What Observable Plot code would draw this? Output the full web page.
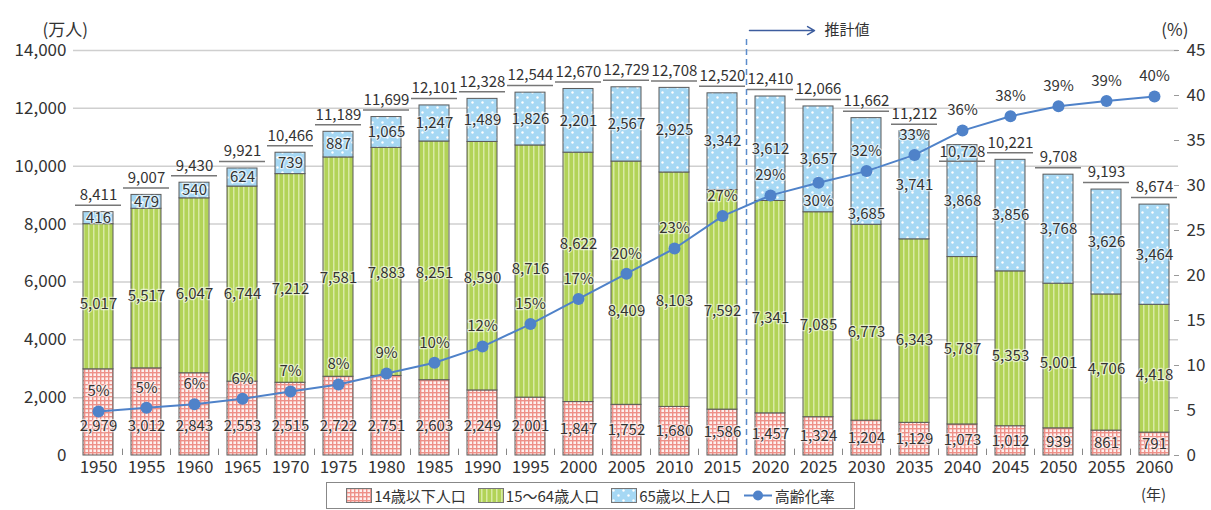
<!DOCTYPE html>
<html><head><meta charset="utf-8">
<script src="https://cdn.jsdelivr.net/npm/d3@7"></script>
<script src="https://cdn.jsdelivr.net/npm/@observablehq/plot@0.6"></script>
<style>
body{margin:0;background:#fff;font-family:'Noto Sans CJK JP',sans-serif;color:#333;}
#wrap{position:relative;width:1211px;height:510px;overflow:hidden;}
#legend{position:absolute;left:326px;top:482px;width:529px;height:27px;box-sizing:border-box;border:1px solid #888;display:flex;align-items:center;justify-content:center;gap:12px;font-size:15px;line-height:1;}
.item{display:flex;align-items:center;gap:2px;}
.item svg{display:block;}
#unitYear{position:absolute;left:1141px;top:483px;font-size:15px;}
</style></head><body>
<svg width="0" height="0" style="position:absolute">
<defs>
<pattern id="pYoung" width="4" height="4" patternUnits="userSpaceOnUse">
 <rect width="4" height="4" fill="#fdf1ef"/>
 <rect width="4" height="1.4" fill="#ee9088"/>
 <rect width="1.4" height="4" fill="#ee9088"/>
</pattern>
<pattern id="pWork" width="5" height="5" patternUnits="userSpaceOnUse">
 <rect width="5" height="5" fill="#b2d357"/>
 <rect x="3" width="1.5" height="5" fill="#d8eaa4"/>
</pattern>
<pattern id="pOld" width="10" height="10" patternUnits="userSpaceOnUse">
 <rect width="10" height="10" fill="#a6d8f4"/>
 <circle cx="2.5" cy="2.5" r="1.2" fill="#fff"/>
 <circle cx="7.5" cy="7.5" r="1.2" fill="#fff"/>
</pattern>
</defs>
</svg>
<div id="wrap">
<div id="chart"></div>
<div id="legend">
 <span class="item"><svg width="26" height="15"><rect x="0.5" y="0.5" width="25" height="14" fill="url(#pYoung)" stroke="#777"/></svg>14歳以下人口</span>
 <span class="item"><svg width="26" height="15"><rect x="0.5" y="0.5" width="25" height="14" fill="url(#pWork)" stroke="#777"/></svg>15～64歳人口</span>
 <span class="item"><svg width="26" height="15"><rect x="0.5" y="0.5" width="25" height="14" fill="url(#pOld)" stroke="#777"/></svg>65歳以上人口</span>
 <span class="item"><svg width="30" height="15"><line x1="1" x2="29" y1="7.5" y2="7.5" stroke="#4f82c9" stroke-width="2"/><circle cx="15" cy="7.5" r="5" fill="#4f82c9"/></svg>高齢化率</span>
</div>
<div id="unitYear">(年)</div>
</div>
<script>
const years = [1950,1955,1960,1965,1970,1975,1980,1985,1990,1995,2000,2005,2010,2015,2020,2025,2030,2035,2040,2045,2050,2055,2060];
const young = [2979,3012,2843,2553,2515,2722,2751,2603,2249,2001,1847,1752,1680,1586,1457,1324,1204,1129,1073,1012,939,861,791];
const working = [5017,5517,6047,6744,7212,7581,7883,8251,8590,8716,8622,8409,8103,7592,7341,7085,6773,6343,5787,5353,5001,4706,4418];
const elderly = [416,479,540,624,739,887,1065,1247,1489,1826,2201,2567,2925,3342,3612,3657,3685,3741,3868,3856,3768,3626,3464];
const totals = [8411,9007,9430,9921,10466,11189,11699,12101,12328,12544,12670,12729,12708,12520,12410,12066,11662,11212,10728,10221,9708,9193,8674];
const agingRate = [4.9,5.3,5.7,6.3,7.1,7.9,9.1,10.3,12.1,14.6,17.4,20.2,23.0,26.6,28.9,30.3,31.6,33.4,36.1,37.7,38.8,39.4,39.9];
const leftTicks = [0,2000,4000,6000,8000,10000,12000,14000];
const rightTicks = [0,5,10,15,20,25,30,35,40,45];
const projectionStart = 2020;

const YMAX = 14000, PMAX = 45, K = YMAX / PMAX;
const PLOT_H = 482 - 50 - 27, S = PLOT_H / YMAX; // px per unit, for label collision checks
const fmt = d3.format(",");
const rows = years.map((year, i) => ({year, young: young[i], work: working[i], old: elderly[i], total: totals[i], pct: agingRate[i]}));
rows.forEach(d => {
  d.p = d.pct * K;
  d.youngY = Math.min(d.young / 2, 1000);
  const lo = d.young, hi = d.young + d.work;
  let m = lo + 0.45 * d.work;
  if (Math.abs(m - d.p) < 1400) m = (hi - d.p > d.p - lo) ? d.p + 1900 : d.p - 1300;
  d.workY = m;
  let e = hi + d.old / 2;
  if (Math.abs(e - d.p) < 400) e = d.p - 1500;
  d.oldY = e;
  d.pctBelow = (e - d.p > 0 && e - d.p < 1000);
  const pctUp = d.p * S + 20, totUp = d.total * S + 17;
  d.crowded = !d.pctBelow && Math.abs(pctUp - totUp) < 19;
});
const normal = rows.filter(d => !d.crowded), crowded = rows.filter(d => d.crowded);

const halo = {stroke: "white", strokeWidth: 2.5, strokeOpacity: 0.6};
const barStyle = {stroke: "#5a5a5a", strokeWidth: 1};
const lineColor = "#4f82c9";
const pctText = d => Math.round(d.pct) + "%";

const chart = Plot.plot({
  width: 1211, height: 482,
  marginLeft: 73, marginRight: 33, marginTop: 50, marginBottom: 27,
  style: {fontFamily: "'Noto Sans CJK JP', sans-serif", fontSize: "15px", color: "#333", background: "transparent"},
  x: {type: "band", domain: years, paddingInner: 0.375, paddingOuter: 0.1875, label: null},
  y: {domain: [0, YMAX], label: null},
  marks: [
    Plot.gridY(leftTicks.filter(t => t > 0), {stroke: "#cfcfcf", strokeOpacity: 1, strokeWidth: 1.5}),
    Plot.barY(rows, {x: "year", y1: 0, y2: "young", fill: "url(#pYoung)", ...barStyle}),
    Plot.barY(rows, {x: "year", y1: "young", y2: d => d.young + d.work, fill: "url(#pWork)", ...barStyle}),
    Plot.barY(rows, {x: "year", y1: d => d.young + d.work, y2: d => d.young + d.work + d.old, fill: "url(#pOld)", ...barStyle}),
    Plot.ruleX(years.slice(1), {x: d => d, dx: -24, y1: 0, y2: 220, stroke: "#888"}),
    Plot.axisY(leftTicks, {anchor: "left", tickSize: 0, tickPadding: 7, tickFormat: fmt, fontSize: 17, line: true, stroke: "#999", label: null}),
    Plot.axisY(rightTicks.map(t => t * K), {anchor: "right", tickSize: -5, tickPadding: 13, tickFormat: d => String(Math.round(d / K)), fontSize: 17, line: true, stroke: "#999", label: null}),
    Plot.axisX({tickSize: 0, tickPadding: 5, tickFormat: d => String(d), fontSize: 17, line: true, stroke: "#999", label: null}),
    Plot.ruleX([projectionStart], {x: d => d, dx: -24, y1: 0, y2: 14420, stroke: "#5b8ccc", strokeWidth: 1.5, strokeDasharray: "6,4"}),
    Plot.arrow([projectionStart], {x1: d => d, x2: d => d + 5, y1: 14690, y2: 14690, insetStart: -21, insetEnd: 4, stroke: "#3d5d9e", strokeWidth: 1.5, headLength: 8}),
    Plot.text([projectionStart], {x: d => d + 5, y: 14690, text: () => "推計値", textAnchor: "start", dx: 6, fontSize: 15, fill: "#333"}),
    Plot.tickY(normal, {x: "year", y: "total", dy: -7, insetLeft: -8, insetRight: -8, stroke: "#777", strokeWidth: 1.5}),
    Plot.text(normal, {x: "year", y: "total", text: d => fmt(d.total), dy: -17, fill: "#333"}),
    Plot.tickY(crowded, {x: "year", y: "total", dy: 16, insetLeft: -8, insetRight: -8, stroke: "#777", strokeWidth: 1.5}),
    Plot.text(crowded, {x: "year", y: "total", text: d => fmt(d.total), dy: 7, fill: "#333", ...halo}),
    Plot.text(rows, {x: "year", y: "youngY", text: d => fmt(d.young), fill: "#333", ...halo}),
    Plot.text(rows, {x: "year", y: "workY", text: d => fmt(d.work), fill: "#333", ...halo}),
    Plot.text(rows, {x: "year", y: "oldY", text: d => fmt(d.old), fill: "#333", ...halo}),
    Plot.line(rows, {x: "year", y: "p", stroke: lineColor, strokeWidth: 2}),
    Plot.dot(rows, {x: "year", y: "p", r: 6, fill: lineColor}),
    Plot.text(rows.filter(d => !d.pctBelow), {x: "year", y: "p", text: pctText, dy: -20, fill: "#333", ...halo}),
    Plot.text(rows.filter(d => d.pctBelow), {x: "year", y: "p", text: pctText, dy: 18, fill: "#333", ...halo}),
    Plot.text(["(万人)"], {frameAnchor: "top-left", text: d => d, dx: -31, dy: -27, fontSize: 17, fill: "#333"}),
    Plot.text(["(%)"], {frameAnchor: "top-right", text: d => d, dx: 10, dy: -27, fontSize: 17, fill: "#333"})
  ]
});
document.getElementById("chart").appendChild(chart);
</script>
</body></html>
